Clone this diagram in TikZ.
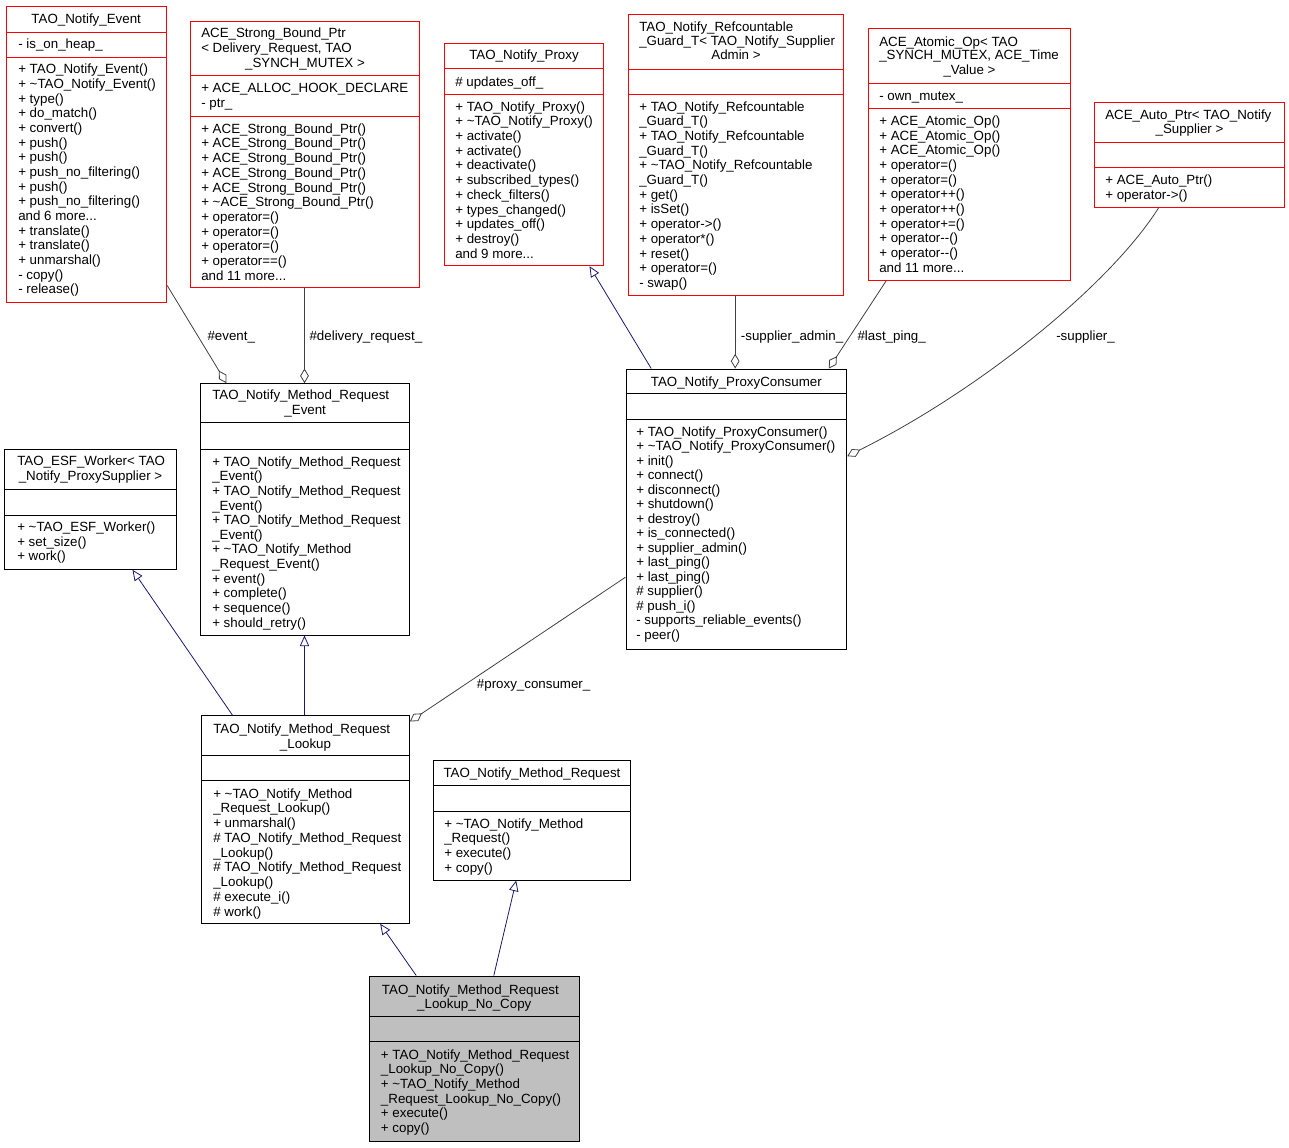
\documentclass[tikz,border=0pt]{standalone}
\usepackage{fontspec}
\setmainfont{Liberation Sans}
\usetikzlibrary{fit,calc,arrows.meta}
\definecolor{boxred}{HTML}{FF0000}
\definecolor{edgegray}{HTML}{404040}
\definecolor{inhblue}{HTML}{191970}
\definecolor{focusgray}{HTML}{BFBFBF}
\newcommand{\mrdots}{.{}.{}.}
\tikzset{
  txt/.style={anchor=west, inner sep=0pt, text height=7.2pt, text depth=2.1pt, yshift=-1.5pt, font=\fontsize{10}{11}\selectfont},
  ctxt/.style={txt, anchor=center},
  redbox/.style={draw=boxred, line width=0.75pt, inner sep=0pt, fill=white},
  blkbox/.style={draw=black, line width=0.75pt, inner sep=0pt, fill=white},
  focbox/.style={draw=black, line width=0.75pt, inner sep=0pt, fill=focusgray},
  redsep/.style={draw=boxred, line width=0.75pt},
  blksep/.style={draw=black, line width=0.75pt},
  inh/.style={draw=inhblue, line width=0.6pt, -{Triangle[open, length=8pt, width=7pt]}},
  usage/.style={draw=edgegray, line width=0.6pt, -{Diamond[open, length=11pt, width=6.5pt]}},
}
\newcommand{\rowlist}[5]{%
  \foreach \t [count=\i from 0] in {#5} {
    \node[txt, name=#1\i] at (#2, {#3+\i*#4}) {\t};
  }}
\begin{document}
\begin{tikzpicture}[x=0.75pt, y=-0.75pt]
\useasboundingbox (0,0) rectangle (1289,1147);

% ---------------- TAO_Notify_Event
\node[redbox, fit={(6.5,6.5) (166,302.3)}] (evt) {};
\draw[redsep] (6.5,32.3) -- (166,32.3);
\draw[redsep] (6.5,57.3) -- (166,57.3);
\node[ctxt] (evtt) at (86.2,18.3) {TAO\_Notify\_Event};
\node[txt] (evta) at (18,43.5) {- is\_on\_heap\_};
\rowlist{evtm}{18}{68.3}{14.67}{+ TAO\_Notify\_Event(), + \textasciitilde{}TAO\_Notify\_Event(), + type(), + do\_match(), + convert(), + push(), + push(), + push\_no\_filtering(), + push(), + push\_no\_filtering(), and 6 more\mrdots, + translate(), + translate(), + unmarshal(), - copy(), - release()}

% ---------------- ACE_Strong_Bound_Ptr
\node[redbox, fit={(190.7,21.7) (419.3,287.3)}] (sbp) {};
\draw[redsep] (190.7,75.7) -- (419.3,75.7);
\draw[redsep] (190.7,116) -- (419.3,116);
\node[txt] (sbpt0) at (201,32.3) {ACE\_Strong\_Bound\_Ptr};
\node[txt] (sbpt1) at (201,47.3) {< Delivery\_Request, TAO};
\node[ctxt] (sbpt2) at (305,62.3) {\_SYNCH\_MUTEX >};
\rowlist{sbpa}{201}{87.3}{14.7}{+ ACE\_ALLOC\_HOOK\_DECLARE, - ptr\_}
\rowlist{sbpm}{201}{127.7}{14.73}{+ ACE\_Strong\_Bound\_Ptr(), + ACE\_Strong\_Bound\_Ptr(), + ACE\_Strong\_Bound\_Ptr(), + ACE\_Strong\_Bound\_Ptr(), + ACE\_Strong\_Bound\_Ptr(), + \textasciitilde{}ACE\_Strong\_Bound\_Ptr(), + operator=(), + operator=(), + operator=(), + operator==(), and 11 more\mrdots}

% ---------------- TAO_Notify_Proxy
\node[redbox, fit={(444,43.3) (603.7,265.7)}] (prx) {};
\draw[redsep] (444,68.7) -- (603.7,68.7);
\draw[redsep] (444,94) -- (603.7,94);
\node[ctxt] (prxt) at (524,54.3) {TAO\_Notify\_Proxy};
\node[txt] (prxa) at (455,81) {\# updates\_off\_};
\rowlist{prxm}{455}{105.7}{14.7}{+ TAO\_Notify\_Proxy(), + \textasciitilde{}TAO\_Notify\_Proxy(), + activate(), + activate(), + deactivate(), + subscribed\_types(), + check\_filters(), + types\_changed(), + updates\_off(), + destroy(), and 9 more\mrdots}

% ---------------- TAO_Notify_Refcountable_Guard_T
\node[redbox, fit={(628.7,14) (843.3,295)}] (rcg) {};
\draw[redsep] (628.7,69) -- (843.3,69);
\draw[redsep] (628.7,94) -- (843.3,94);
\node[txt] (rcgt0) at (639,25.7) {TAO\_Notify\_Refcountable};
\node[txt] (rcgt1) at (639,40.5) {\_Guard\_T< TAO\_Notify\_Supplier};
\node[ctxt] (rcgt2) at (736,54.3) {Admin >};
\rowlist{rcgm}{639}{105.7}{14.69}{+ TAO\_Notify\_Refcountable, \_Guard\_T(), + TAO\_Notify\_Refcountable, \_Guard\_T(), + \textasciitilde{}TAO\_Notify\_Refcountable, \_Guard\_T(), + get(), + isSet(), + operator->(), + operator*(), + reset(), + operator=(), - swap()}

% ---------------- ACE_Atomic_Op
\node[redbox, fit={(868,28.7) (1070.7,280.3)}] (aop) {};
\draw[redsep] (868,83) -- (1070.7,83);
\draw[redsep] (868,108.3) -- (1070.7,108.3);
\node[txt] (aopt0) at (879,40.7) {ACE\_Atomic\_Op< TAO};
\node[txt] (aopt1) at (879,54.5) {\_SYNCH\_MUTEX, ACE\_Time};
\node[ctxt] (aopt2) at (969.5,69.3) {\_Value >};
\node[txt] (aopa) at (879,95) {- own\_mutex\_};
\rowlist{aopm}{879}{120}{14.67}{+ ACE\_Atomic\_Op(), + ACE\_Atomic\_Op(), + ACE\_Atomic\_Op(), + operator=(), + operator=(), + operator++(), + operator++(), + operator+=(), + operator-{}-(), + operator-{}-(), and 11 more\mrdots}

% ---------------- ACE_Auto_Ptr
\node[redbox, fit={(1094.7,102) (1284,207)}] (aap) {};
\draw[redsep] (1094.7,142) -- (1284,142);
\draw[redsep] (1094.7,167.3) -- (1284,167.3);
\node[txt] (aapt0) at (1105,114) {ACE\_Auto\_Ptr< TAO\_Notify};
\node[ctxt] (aapt1) at (1189.5,128.3) {\_Supplier >};
\rowlist{aapm}{1105}{179.3}{14.4}{+ ACE\_Auto\_Ptr(), + operator->()}

% ---------------- TAO_ESF_Worker
\node[blkbox, fit={(4.7,449.3) (176,569.3)}] (esf) {};
\draw[blksep] (4.7,489) -- (176,489);
\draw[blksep] (4.7,515) -- (176,515);
\node[txt] (esft0) at (17,460.5) {TAO\_ESF\_Worker< TAO};
\node[ctxt] (esft1) at (90.5,475.5) {\_Notify\_ProxySupplier >};
\rowlist{esfm}{17}{526}{14.67}{+ \textasciitilde{}TAO\_ESF\_Worker(), + set\_size(), + work()}

% ---------------- TAO_Notify_Method_Request_Event
\node[blkbox, fit={(200.7,383.7) (409.7,635)}] (rev) {};
\draw[blksep] (200.7,422.7) -- (409.7,422.7);
\draw[blksep] (200.7,449) -- (409.7,449);
\node[txt] (revt0) at (212,394.3) {TAO\_Notify\_Method\_Request};
\node[ctxt] (revt1) at (305.2,409.3) {\_Event};
\rowlist{revm}{212}{460.7}{14.64}{+ TAO\_Notify\_Method\_Request, \_Event(), + TAO\_Notify\_Method\_Request, \_Event(), + TAO\_Notify\_Method\_Request, \_Event(), + \textasciitilde{}TAO\_Notify\_Method, \_Request\_Event(), + event(), + complete(), + sequence(), + should\_retry()}

% ---------------- TAO_Notify_ProxyConsumer
\node[blkbox, fit={(626,369) (846.7,649.3)}] (pcs) {};
\draw[blksep] (626,393.7) -- (846.7,393.7);
\draw[blksep] (626,419.3) -- (846.7,419.3);
\node[ctxt] (pcst) at (736.3,380.7) {TAO\_Notify\_ProxyConsumer};
\rowlist{pcsm}{636}{430.7}{14.52}{+ TAO\_Notify\_ProxyConsumer(), + \textasciitilde{}TAO\_Notify\_ProxyConsumer(), + init(), + connect(), + disconnect(), + shutdown(), + destroy(), + is\_connected(), + supplier\_admin(), + last\_ping(), + last\_ping(), \# supplier(), \# push\_i(), - supports\_reliable\_events(), - peer()}

% ---------------- TAO_Notify_Method_Request_Lookup
\node[blkbox, fit={(201.7,715.7) (409.3,923.3)}] (rlk) {};
\draw[blksep] (201.7,755.7) -- (409.3,755.7);
\draw[blksep] (201.7,780.7) -- (409.3,780.7);
\node[txt] (rlkt0) at (213,727.7) {TAO\_Notify\_Method\_Request};
\node[ctxt] (rlkt1) at (305.5,742.7) {\_Lookup};
\rowlist{rlkm}{213}{792.7}{14.75}{+ \textasciitilde{}TAO\_Notify\_Method, \_Request\_Lookup(), + unmarshal(), \# TAO\_Notify\_Method\_Request, \_Lookup(), \# TAO\_Notify\_Method\_Request, \_Lookup(), \# execute\_i(), \# work()}

% ---------------- TAO_Notify_Method_Request
\node[blkbox, fit={(433.3,760) (630.7,880)}] (mrq) {};
\draw[blksep] (433.3,785.3) -- (630.7,785.3);
\draw[blksep] (433.3,811) -- (630.7,811);
\node[ctxt] (mrqt) at (532,771.7) {TAO\_Notify\_Method\_Request};
\rowlist{mrqm}{444}{822.7}{14.67}{+ \textasciitilde{}TAO\_Notify\_Method, \_Request(), + execute(), + copy()}

% ---------------- TAO_Notify_Method_Request_Lookup_No_Copy
\node[focbox, fit={(369.3,976) (579.3,1141)}] (ncp) {};
\draw[blksep] (369.3,1016.7) -- (579.3,1016.7);
\draw[blksep] (369.3,1041.7) -- (579.3,1041.7);
\node[txt] (ncpt0) at (381.7,989.3) {TAO\_Notify\_Method\_Request};
\node[ctxt] (ncpt1) at (474.3,1003.3) {\_Lookup\_No\_Copy};
\rowlist{ncpm}{380.7}{1054}{14.55}{+ TAO\_Notify\_Method\_Request, \_Lookup\_No\_Copy(), + \textasciitilde{}TAO\_Notify\_Method, \_Request\_Lookup\_No\_Copy(), + execute(), + copy()}

% ---------------- connectors
\draw[usage] ($(evt.south east)+(0.7,-17.3)$) -- ($(rev.north west)+(26.3,0)$);
\draw[usage] ($(sbp.south west)+(114.3,0)$) -- ($(rev.north west)+(104.3,0)$);
\draw[inh] ($(pcs.north west)+(25.7,0)$) -- ($(prx.south west)+(146,0)$);
\draw[usage] ($(rcg.south west)+(107,0)$) -- ($(pcs.north west)+(109.7,0)$);
\draw[usage] ($(aop.south west)+(18.7,0)$) -- ($(pcs.north west)+(203.3,0)$);
\draw[usage] ($(aap.south west)+(64.6,0)$) .. controls (1110,285) and (980,390) .. ($(pcs.north east)+(0,87.7)$);
\draw[inh] ($(rlk.north west)+(31.3,0)$) -- ($(esf.south west)+(128.3,0)$);
\draw[inh] ($(rlk.north west)+(103.3,0)$) -- ($(rev.south west)+(104.3,0)$);
\draw[usage] ($(pcs.south west)+(0,-72.6)$) -- ($(rlk.north east)+(0,6.3)$);
\draw[inh] ($(ncp.north west)+(47.4,0)$) -- ($(rlk.south west)+(179,0)$);
\draw[inh] ($(ncp.north west)+(125,0)$) -- ($(mrq.south west)+(83.4,0)$);

% ---------------- connector labels
\node[txt] (lev) at (207.3,335) {\#event\_};
\node[txt] (ldr) at (309.3,335) {\#delivery\_request\_};
\node[txt] (lsa) at (740.7,335) {-supplier\_admin\_};
\node[txt] (llp) at (857.3,335) {\#last\_ping\_};
\node[txt] (lsu) at (1056,335) {-supplier\_};
\node[txt] (lpc) at (476.7,682.7) {\#proxy\_consumer\_};
\end{tikzpicture}
\end{document}
